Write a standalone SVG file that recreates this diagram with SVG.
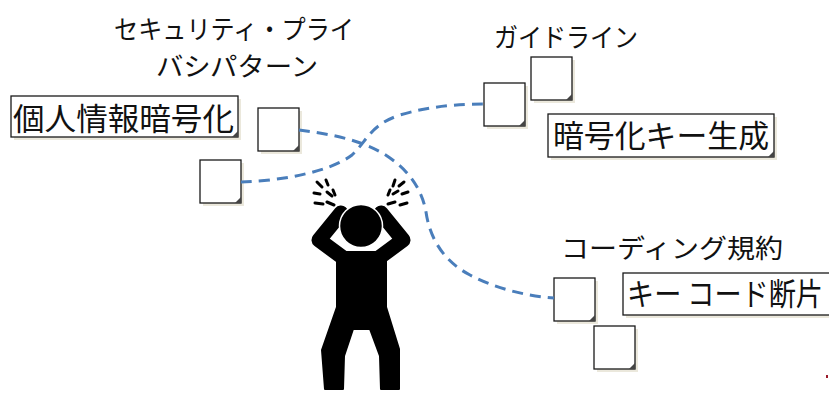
<svg xmlns="http://www.w3.org/2000/svg" width="829" height="393" viewBox="0 0 829 393">
  <defs>
    <style>
      .shadow { fill: #ebe8dc; }
      .paper { fill: #ffffff; stroke: #1a1a1a; stroke-width: 1.3; }
      .fold { fill: #444444; }
      .title { font-family: "Noto Sans CJK JP", "Noto Sans", sans-serif; font-size: 26px; fill: #111111; }
      .label { font-family: "Noto Sans CJK JP", "Noto Sans", sans-serif; font-size: 31px; fill: #111111; }
      .link { fill: none; stroke: #4a7ebb; stroke-width: 3; stroke-dasharray: 11 7; }
      .spark { stroke: #000000; stroke-width: 3; stroke-linecap: round; }
    </style>
    <!-- sticky note with drop shadow and curled corner -->
    <g id="note">
      <rect class="shadow" x="3" y="3" width="41" height="43"/>
      <rect class="paper" x="0" y="0" width="41" height="43"/>
      <path class="fold" d="M41,37 L41,43 L35,43 Z"/>
    </g>
  </defs>

  <rect width="829" height="393" fill="#ffffff"/>

  <!-- category headings -->
  <g id="heading-privacy">
    <text class="title" x="114" y="39" textLength="240" lengthAdjust="spacingAndGlyphs">セキュリティ・プライ</text>
    <text class="title" x="156" y="76" textLength="162" lengthAdjust="spacingAndGlyphs">バシパターン</text>
  </g>
  <g id="heading-guideline">
    <text class="title" x="494" y="47" textLength="144" lengthAdjust="spacingAndGlyphs">ガイドライン</text>
  </g>
  <g id="heading-coding">
    <text class="title" x="561" y="258" font-size="28" textLength="222" lengthAdjust="spacingAndGlyphs">コーディング規約</text>
  </g>

  <!-- labelled cards -->
  <g id="card-encrypt-personal">
    <rect class="shadow" x="14" y="99" width="227" height="41"/>
    <rect class="paper" x="11" y="96" width="227" height="41"/>
    <path class="fold" d="M238,131 L238,137 L232,137 Z"/>
    <text class="label" x="13" y="130" textLength="221" lengthAdjust="spacingAndGlyphs">個人情報暗号化</text>
  </g>
  <g id="card-keygen">
    <rect class="shadow" x="551" y="117" width="226" height="43"/>
    <rect class="paper" x="548" y="114" width="226" height="43"/>
    <path class="fold" d="M774,151 L774,157 L768,157 Z"/>
    <text class="label" x="553" y="147" textLength="216" lengthAdjust="spacingAndGlyphs">暗号化キー生成</text>
  </g>
  <g id="card-key-fragment">
    <rect class="shadow" x="626" y="276" width="220" height="42"/>
    <rect class="paper" x="623" y="273" width="220" height="42"/>
    <text class="label" x="627" y="305" font-size="28" textLength="196" lengthAdjust="spacingAndGlyphs">キー コード断片</text>
  </g>

  <!-- blank notes -->
  <g id="note-1"><use href="#note" x="258" y="108"/></g>
  <g id="note-2"><use href="#note" x="200" y="160"/></g>
  <g id="note-3"><use href="#note" x="531" y="57"/></g>
  <g id="note-4"><use href="#note" x="484" y="83"/></g>
  <g id="note-5"><use href="#note" x="554" y="278"/></g>
  <g id="note-6"><use href="#note" x="594" y="326"/></g>

  <!-- dashed connectors -->
  <g id="connectors">
    <path class="link" d="M299,130 C330,134 365,140 390,158 C410,172 422,190 426,212 C430,240 445,262 470,275 C495,288 525,296 554,298"/>
    <path class="link" d="M241,182 C280,181 330,172 352,155 C368,140 370,125 400,115 C430,106 460,104 484,104"/>
  </g>

  <!-- worried person holding head -->
  <g id="person">
    <g fill="none" stroke="#000000" stroke-width="15" stroke-linejoin="round" stroke-linecap="round">
      <polyline points="341,213 319,240 342,257"/>
      <polyline points="381,213 403,240 380,257"/>
    </g>
    <path fill="#000000" stroke="#000000" stroke-width="2" stroke-linejoin="round"
          d="M337,252 L386,252 L386,307 L399,349 L399,389 L381,389 L380,356 L370,329 L353,329 L344,356 L343,389 L325,389 L322,350 L337,307 Z"/>
    <circle cx="361" cy="226" r="21.5" fill="#000000" stroke="#ffffff" stroke-width="1.5"/>
    <g class="spark">
      <line x1="317" y1="182" x2="322" y2="187"/>
      <line x1="326" y1="180" x2="328" y2="185"/>
      <line x1="314" y1="193" x2="320" y2="194"/>
      <line x1="327" y1="192" x2="332" y2="196"/>
      <line x1="333" y1="190" x2="335" y2="195"/>
      <line x1="315" y1="203" x2="323" y2="204"/>
      <line x1="327" y1="202" x2="334" y2="205"/>
      <line x1="395" y1="180" x2="393" y2="186"/>
      <line x1="404" y1="182" x2="399" y2="186"/>
      <line x1="390" y1="190" x2="388" y2="195"/>
      <line x1="398" y1="191" x2="393" y2="194"/>
      <line x1="408" y1="192" x2="402" y2="194"/>
      <line x1="395" y1="202" x2="388" y2="204"/>
      <line x1="407" y1="203" x2="400" y2="205"/>
    </g>
  </g>

  <rect x="826" y="375" width="2" height="3" fill="#9a1a2a"/>
</svg>
